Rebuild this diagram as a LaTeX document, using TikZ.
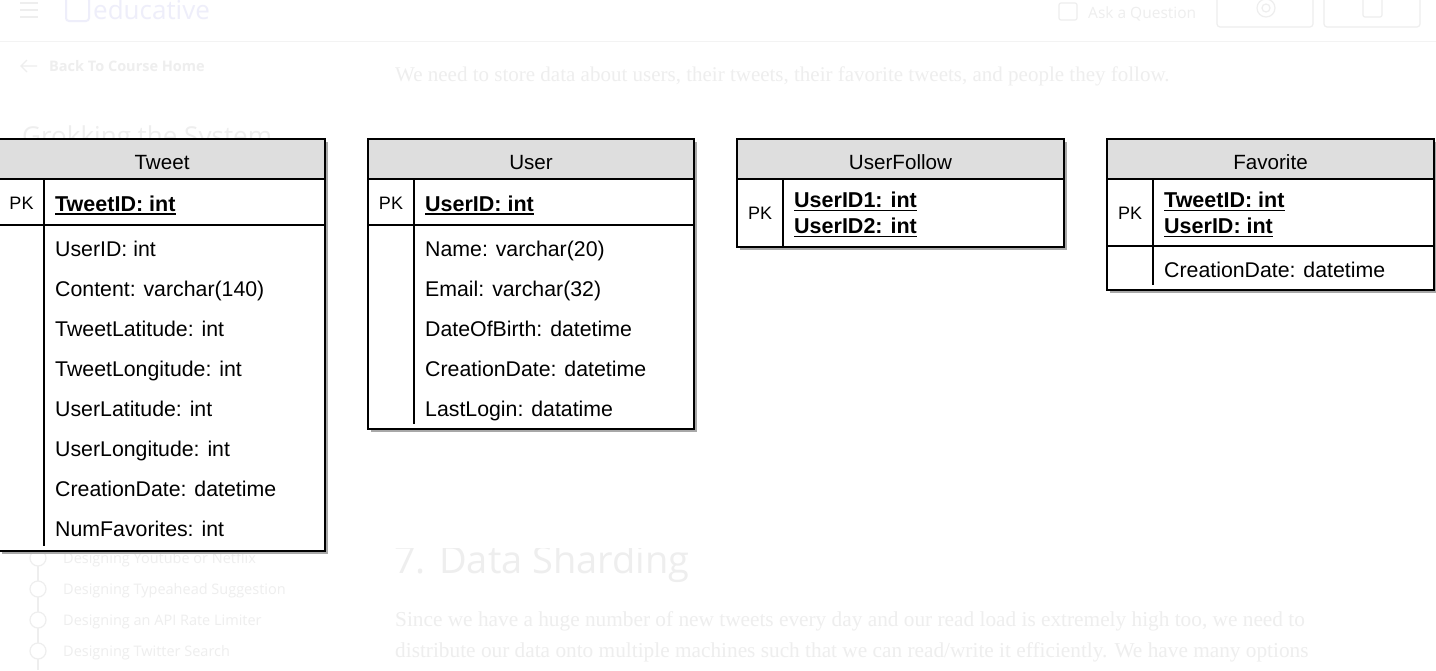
\documentclass[tikz,border=0pt]{standalone}
\usepackage{fontspec}
\setmainfont{Liberation Sans}
\newfontfamily\bgsans{Open Sans}
\newfontfamily\bgserif{Liberation Serif}
\definecolor{hdrgray}{HTML}{DEDEDE}
\definecolor{faint}{HTML}{EEEEEE}
\definecolor{faintline}{HTML}{F3F3F3}
\definecolor{faintlogo}{HTML}{EEEEFA}
\definecolor{shadowgray}{HTML}{A8A8A8}
\begin{document}
\begin{tikzpicture}[x=1pt,y=-1pt,
  frame/.style={draw=black,line width=1.5pt},
  shade/.style={fill=shadowgray},
  head/.style={fill=hdrgray},
  title/.style={anchor=base,inner sep=0pt,font=\fontsize{20.6}{24}\selectfont},
  pklab/.style={anchor=base,inner sep=0pt,font=\fontsize{18}{20}\selectfont},
  field/.style={anchor=base west,inner sep=0pt,font=\fontsize{21.3}{24}\selectfont},
  keyfield/.style={anchor=base west,inner sep=0pt,font=\bfseries\fontsize{21.5}{24}\selectfont},
  uline/.style={draw=black,line width=1.4pt},
  bg/.style={inner sep=0pt,text=faint},
  bgdraw/.style={draw=faint,line width=1.2pt},
]
\useasboundingbox[fill=white] (0,0) rectangle (1436,670);

% ---------- faint background page ----------
\draw[faintline,line width=1pt] (0,41) -- (1436,41);
\foreach \yy in {3,10,17} \draw[bgdraw,line width=2pt] (20,\yy) -- (38,\yy);
\draw[draw=faintlogo,line width=2pt,rounded corners=3pt] (66,-3) rectangle (89,21);
\node[bg,anchor=base west,text=faintlogo,font=\bgsans\fontsize{26}{28}\selectfont] (logo) at (93,19) {educative};
\draw[bgdraw] (37,66) -- (21,66) (27,60) -- (21,66) -- (27,72);
\node[bg,anchor=base west,font=\bgsans\bfseries\fontsize{14.5}{16}\selectfont] (back) at (49,71) {Back To Course Home};
\node[bg,anchor=base west,font=\bgsans\fontsize{26}{28}\selectfont] (grok) at (22,145) {Grokking the System};
\node[bg,anchor=base west,font=\bgserif\fontsize{21}{24}\selectfont] (intro) at (395,81) {We need to store data about users, their tweets, their favorite tweets, and people they follow.};
\draw[bgdraw,rounded corners=2pt] (1059,3) rectangle (1077,20);
\node[bg,anchor=base west,font=\bgsans\fontsize{15.5}{17}\selectfont] (ask) at (1088,18) {Ask a Question};
\draw[bgdraw,rounded corners=3pt] (1217,-6) rectangle (1313,27);
\draw[bgdraw,rounded corners=3pt] (1324,-6) rectangle (1420,27);
\draw[bgdraw] (1266,8) circle (4) (1266,8) circle (9);
\draw[bgdraw,rounded corners=2pt] (1363,-2) rectangle (1382,17);
\begin{scope}
  \clip (380,548) rectangle (720,600);
  \node[bg,anchor=base west,font=\bgsans\fontsize{38}{42}\selectfont] (shard) at (394,573) {7. Data Sharding};
\end{scope}
\node[bg,anchor=base west,font=\bgserif\fontsize{21.3}{24}\selectfont] (p1) at (395,626) {Since we have a huge number of new tweets every day and our read load is extremely high too, we need to};
\node[bg,anchor=base west,font=\bgserif\fontsize{21.3}{24}\selectfont] (p2) at (395,657) {distribute our data onto multiple machines such that we can read/write it efficiently. We have many options};
\draw[bgdraw] (38,550) -- (38,670);
\foreach \yy in {558,589,620,651} \draw[bgdraw,fill=white] (38,\yy) circle (8);
\node[bg,anchor=base west,font=\bgsans\fontsize{14.5}{16}\selectfont] (s1) at (63,563) {Designing Youtube or Netflix};
\node[bg,anchor=base west,font=\bgsans\fontsize{14.5}{16}\selectfont] (s2) at (63,594) {Designing Typeahead Suggestion};
\node[bg,anchor=base west,font=\bgsans\fontsize{14.5}{16}\selectfont] (s3) at (63,625) {Designing an API Rate Limiter};
\node[bg,anchor=base west,font=\bgsans\fontsize{14.5}{16}\selectfont] (s4) at (63,656) {Designing Twitter Search};

% ---------- Tweet ----------
\fill[shade] (2,142) rectangle (328,554);
\fill[white] (-1,139) rectangle (325,551);
\fill[head] (-1,139) rectangle (325,179);
\draw[frame] (-1,139) rectangle (325,551);
\draw[frame] (-1,179) -- (325,179);
\draw[frame] (-1,225) -- (325,225);
\draw[frame] (44,179) -- (44,225);
\draw[frame] (44,225) -- (44,546);
\node[title] (twT) at (162,169) {Tweet};
\node[pklab] (twPK) at (21.5,209.5) {PK};
\node[keyfield] (twK) at (55,211) {TweetID: int};
\draw[uline] ([yshift=-2.8pt]twK.base west) -- ([yshift=-2.8pt]twK.base east);
\foreach \t [count=\i] in {UserID: int, Content: varchar(140), TweetLatitude: int, TweetLongitude: int, UserLatitude: int, UserLongitude: int, CreationDate: datetime, NumFavorites: int}
  \node[field] (tw\i) at (55,{216+40*\i}) {\t};

% ---------- User ----------
\fill[shade] (371,142) rectangle (697,432);
\fill[white] (368,139) rectangle (694,429);
\fill[head] (368,139) rectangle (694,179);
\draw[frame] (368,139) rectangle (694,429);
\draw[frame] (368,179) -- (694,179);
\draw[frame] (368,225) -- (694,225);
\draw[frame] (414,179) -- (414,225);
\draw[frame] (414,225) -- (414,424);
\node[title] (usT) at (531,169) {User};
\node[pklab] (usPK) at (391,209.5) {PK};
\node[keyfield] (usK) at (425,211) {UserID: int};
\draw[uline] ([yshift=-2.8pt]usK.base west) -- ([yshift=-2.8pt]usK.base east);
\foreach \t [count=\i] in {Name: varchar(20), Email: varchar(32), DateOfBirth: datetime, CreationDate: datetime, LastLogin: datatime}
  \node[field] (us\i) at (425,{216+40*\i}) {\t};

% ---------- UserFollow ----------
\fill[shade] (740,142) rectangle (1067,250);
\fill[white] (737,139) rectangle (1064,247);
\fill[head] (737,139) rectangle (1064,179);
\draw[frame] (737,139) rectangle (1064,247);
\draw[frame] (737,179) -- (1064,179);
\draw[frame] (783,179) -- (783,247);
\node[title] (ufT) at (900.5,169) {UserFollow};
\node[pklab] (ufPK) at (760,219.5) {PK};
\node[keyfield] (uf1) at (794,207.5) {UserID1: int};
\node[keyfield] (uf2) at (794,233.5) {UserID2: int};
\draw[uline] ([yshift=-2.8pt]uf1.base west) -- ([yshift=-2.8pt]uf1.base east);
\draw[uline] ([yshift=-2.8pt]uf2.base west) -- ([yshift=-2.8pt]uf2.base east);

% ---------- Favorite ----------
\fill[shade] (1110,142) rectangle (1437,293);
\fill[white] (1107,139) rectangle (1434,290);
\fill[head] (1107,139) rectangle (1434,179);
\draw[frame] (1107,139) rectangle (1434,290);
\draw[frame] (1107,179) -- (1434,179);
\draw[frame] (1107,246) -- (1434,246);
\draw[frame] (1153,179) -- (1153,246);
\draw[frame] (1153,246) -- (1153,285);
\node[title] (fvT) at (1270.5,169) {Favorite};
\node[pklab] (fvPK) at (1130,219.5) {PK};
\node[keyfield] (fv1) at (1164,207.5) {TweetID: int};
\node[keyfield] (fv2) at (1164,233.5) {UserID: int};
\draw[uline] ([yshift=-2.8pt]fv1.base west) -- ([yshift=-2.8pt]fv1.base east);
\draw[uline] ([yshift=-2.8pt]fv2.base west) -- ([yshift=-2.8pt]fv2.base east);
\node[field] (fv3) at (1164,277) {CreationDate: datetime};
\end{tikzpicture}
\end{document}
